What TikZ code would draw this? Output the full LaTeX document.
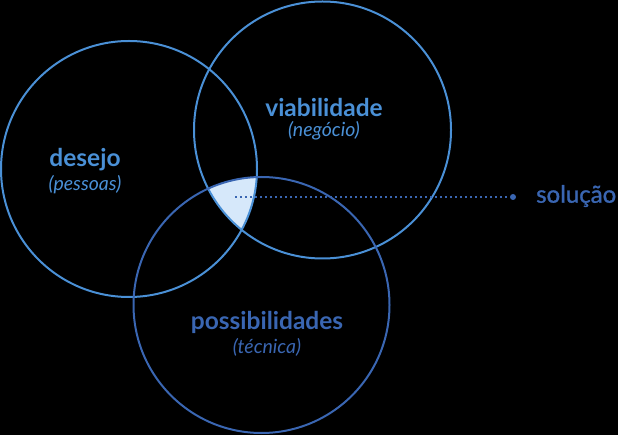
\documentclass[tikz,border=0pt]{standalone}
\usepackage{fontspec}
\setmainfont{Lato}
\newfontfamily\solfont{Lato}[FakeBold=1.2]
\definecolor{ringlight}{RGB}{74,144,214}
\definecolor{ringdark}{RGB}{58,102,178}
\definecolor{overlapfill}{RGB}{214,232,250}

\begin{document}
\begin{tikzpicture}[
    x=1pt,y=-1pt,
    ring/.style={circle,draw,line width=2pt,minimum size=256pt,inner sep=0pt},
    title/.style={font=\bfseries\fontsize{24.5}{28}\selectfont},
    subtitle/.style={font=\itshape\fontsize{19.5}{22}\selectfont},
]
    \fill[black] (0,0) rectangle (618,435);
    \useasboundingbox (0,0) rectangle (618,435);
    \begin{scope}
        \clip (129,169) circle (128);
        \clip (322.5,130) circle (128.5);
        \fill[overlapfill] (261.5,305) circle (128);
    \end{scope}
    \node[ring,ringlight] (desejo) at (129,169) {};
    \node[ring,ringlight,minimum size=257pt] (viab) at (322.5,130) {};
    \node[ring,ringdark] (possib) at (261.5,305) {};

    \node[title,ringlight] (desejo-t) at (85,160) {desejo};
    \node[subtitle,ringlight] (desejo-s) at (85,185) {(pessoas)};
    \node[title,ringlight] (viab-t) at (324,107) {viabilidade};
    \node[subtitle,ringlight] (viab-s) at (324,131) {(negócio)};
    \node[title,ringdark] (possib-t) at (267,322) {possibilidades};
    \node[subtitle,ringdark] (possib-s) at (267,347) {(técnica)};

    \coordinate (sol-start) at (235,197);
    \node[circle,fill=ringdark,minimum size=6pt,inner sep=0pt] (sol-dot) at (513,197) {};
    \draw[ringdark,line width=2pt,dash pattern=on 2pt off 3pt] (sol-start) -- (sol-dot);
    \node[ringdark,font=\solfont\fontsize{24}{28}\selectfont,anchor=west,inner sep=0pt] (solucao) at (536,196) {solução};
\end{tikzpicture}
\end{document}
